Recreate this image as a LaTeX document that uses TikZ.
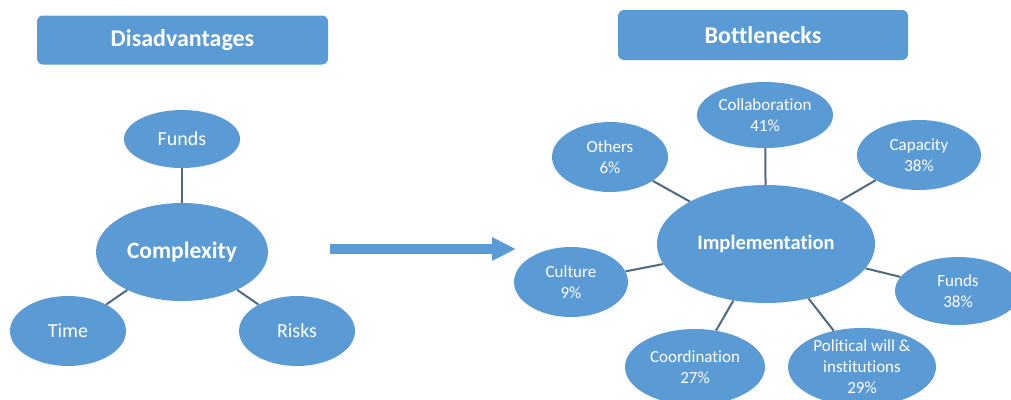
\documentclass[tikz,border=0pt]{standalone}
\usepackage{fontspec}
\setmainfont{Carlito}[Ligatures=NoCommon]
\usetikzlibrary{shapes.geometric,arrows.meta}
\definecolor{blu}{RGB}{91,155,213}
\definecolor{lijn}{RGB}{80,105,130}
\begin{document}
\begin{tikzpicture}[x=1pt,y=-1pt,
  bol/.style={ellipse,fill=blu,text=white,inner sep=0pt,align=center},
  kop/.style={rectangle,rounded corners=6pt,fill=blu,text=white,inner sep=0pt,font=\fontsize{24}{28}\selectfont\bfseries},
  links/.style={bol,font=\fontsize{20}{24}\selectfont},
  rechts/.style={bol,font=\fontsize{17}{21}\selectfont},
  lijntje/.style={draw=lijn,line width=2pt}]
\useasboundingbox (0,0) rectangle (1011,399);
\clip (0,0) rectangle (1011,399);
% titels
\node[kop,minimum width=291pt,minimum height=49pt] (Dis) at (182.5,40) {Disadvantages};
\node[kop,minimum width=290pt,minimum height=50pt] (Bot) at (763,35) {Bottlenecks};
% links
\node[links,minimum width=116pt,minimum height=58pt] (F) at (182,139) {Funds};
\node[bol,font=\fontsize{23.5}{28}\selectfont\bfseries,minimum width=172pt,minimum height=98pt] (C) at (182,252) {Complexity};
\node[links,minimum width=116pt,minimum height=70pt] (T) at (68,331) {Time};
\node[links,minimum width=116pt,minimum height=70pt] (R) at (297,331) {Risks};
\draw[lijntje] (F) -- (C);
\draw[lijntje] (C) -- (T);
\draw[lijntje] (C) -- (R);
% pijl
\coordinate (P1) at (330,249);
\coordinate (P2) at (516,249);
\draw[draw=blu,line width=10pt,-{Triangle[length=24pt,width=22pt]}] (P1) -- (P2);
% rechts
\node[bol,font=\fontsize{20.5}{24}\selectfont\bfseries,minimum width=218pt,minimum height=118pt] (I) at (766,244) {Implementation};
\node[rechts,minimum width=136pt,minimum height=66pt] (Col) at (765,115) {Collaboration\\41\%};
\node[rechts,minimum width=116pt,minimum height=70pt] (O) at (610,157) {Others\\6\%};
\node[rechts,minimum width=124pt,minimum height=70pt] (Cap) at (919,155) {Capacity\\38\%};
\node[rechts,minimum width=114pt,minimum height=70pt] (Cul) at (571,282) {Culture\\9\%};
\node[rechts,minimum width=126pt,minimum height=68pt] (F2) at (958,291) {Funds\\38\%};
\node[rechts,minimum width=140pt,minimum height=76pt] (Co) at (695,367) {Coordination\\27\%};
\node[rechts,minimum width=148pt,minimum height=78pt] (Pol) at (862,367) {Political will \&\\institutions\\29\%};
\foreach \n in {Col,O,Cap,Cul,F2,Co,Pol}
  \draw[lijntje] (I) -- (\n);
\end{tikzpicture}
\end{document}
